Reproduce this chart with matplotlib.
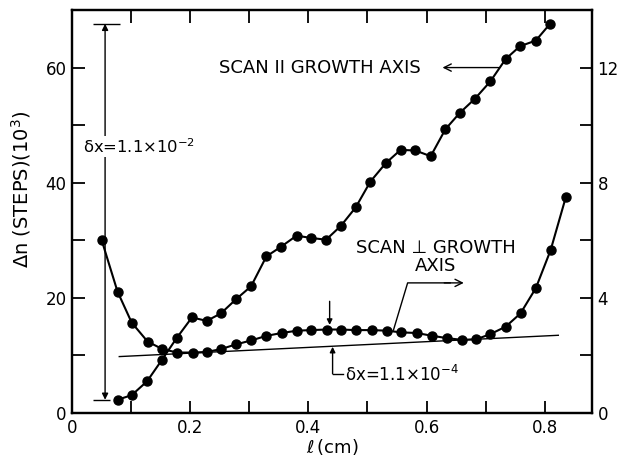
import numpy as np
import matplotlib
matplotlib.use("Agg")
import matplotlib.pyplot as plt
from matplotlib.ticker import MultipleLocator, FuncFormatter

# Scan parallel to growth axis (left axis, 10^3 steps)
par_l  = [0.077, 0.101, 0.127, 0.152, 0.177, 0.203, 0.228, 0.252, 0.278, 0.303,
          0.329, 0.354, 0.380, 0.405, 0.430, 0.455, 0.480, 0.505, 0.531, 0.556,
          0.581, 0.607, 0.632, 0.656, 0.682, 0.708, 0.734, 0.758, 0.785, 0.809]
par_dn = [2.3, 3.1, 5.5, 9.2, 13.0, 16.6, 16.0, 17.3, 19.8, 22.0,
          27.2, 28.9, 30.8, 30.4, 30.1, 32.5, 35.7, 40.2, 43.4, 45.7,
          45.6, 44.6, 49.3, 52.1, 54.6, 57.6, 61.5, 63.7, 64.7, 67.6]

# Scan perpendicular to growth axis (right axis, 10^3 steps)
perp_l  = [0.050, 0.077, 0.101, 0.128, 0.153, 0.178, 0.204, 0.228, 0.252, 0.277,
           0.303, 0.329, 0.355, 0.381, 0.405, 0.431, 0.455, 0.480, 0.507, 0.533,
           0.557, 0.583, 0.610, 0.635, 0.660, 0.684, 0.708, 0.734, 0.759, 0.785,
           0.810, 0.836]
perp_dn = [6.02, 4.22, 3.14, 2.48, 2.22, 2.10, 2.10, 2.12, 2.22, 2.38,
           2.52, 2.68, 2.78, 2.86, 2.88, 2.90, 2.90, 2.88, 2.88, 2.86,
           2.80, 2.78, 2.68, 2.60, 2.54, 2.56, 2.74, 3.00, 3.46, 4.34,
           5.66, 7.52]

# straight reference line under the perpendicular scan (right axis)
base_l  = [0.080, 0.823]
base_dn = [1.96, 2.70]

matplotlib.rc("font", family="DejaVu Sans", size=12)

fig = plt.figure(figsize=(6.22, 4.62), dpi=100)
ax = fig.add_axes([72/622, 1 - 413/462, 520/622, 403/462])
ax2 = ax.twinx()

ax.plot(par_l, par_dn, color="black", lw=1.5, marker="o", ms=6.5, zorder=3)
ax2.plot(perp_l, perp_dn, color="black", lw=1.5, marker="o", ms=6.5, zorder=3)
ax2.plot(base_l, base_dn, color="black", lw=1.0)

ax.set_xlim(0, 0.88)
ax.set_ylim(0, 70)
ax2.set_ylim(0, 14)

ax.xaxis.set_major_locator(MultipleLocator(0.2))
ax.xaxis.set_minor_locator(MultipleLocator(0.1))
ax.yaxis.set_major_locator(MultipleLocator(20))
ax.yaxis.set_minor_locator(MultipleLocator(10))
ax2.yaxis.set_major_locator(MultipleLocator(4))
ax2.yaxis.set_minor_locator(MultipleLocator(2))
ax.xaxis.set_major_formatter(FuncFormatter(lambda v, p: "0" if v == 0 else "%.1f" % v))

for a in (ax, ax2):
    a.tick_params(which="both", direction="in", length=9, width=1.3, labelsize=12, pad=4)
    for s in a.spines.values():
        s.set_linewidth(1.6)
ax.tick_params(which="both", top=True)

ax.set_xlabel(r"$\ell\,$(cm)", fontsize=13, labelpad=0)
ax.set_ylabel(r"$\Delta$n (STEPS)(10$^3$)", fontsize=14)
ax.yaxis.set_label_coords(-0.075, 0.556)

# total spread of the parallel scan
ax.hlines(67.6, 0.036, 0.081, color="black", lw=1.0)
ax.hlines(2.3, 0.036, 0.064, color="black", lw=1.0)
ax.annotate("", xy=(0.056, 67.6), xytext=(0.056, 2.3),
            arrowprops=dict(arrowstyle="<|-|>", color="black", lw=1.0,
                            mutation_scale=9, shrinkA=0, shrinkB=0))
ax.text(0.019, 46.3, "\u03b4x=1.1\u00d710$^{-2}$", fontsize=11.8,
        va="center", ha="left", bbox=dict(fc="white", ec="none", pad=1))

# curve labels
ax.text(0.248, 60.0, "SCAN II GROWTH AXIS", fontsize=13, va="center", ha="left")
ax.annotate("", xy=(0.627, 60.0), xytext=(0.722, 60.0),
            arrowprops=dict(arrowstyle="->", color="black", lw=1.0,
                            mutation_scale=13, shrinkA=0, shrinkB=0))

ax.text(0.615, 27.1, "SCAN \u22a5 GROWTH\nAXIS", fontsize=13, va="center",
        ha="center", linespacing=1.05)
ax.plot([0.544, 0.568, 0.640], [14.4, 22.6, 22.6], color="black", lw=1.0)
ax.annotate("", xy=(0.663, 22.6), xytext=(0.630, 22.6),
            arrowprops=dict(arrowstyle="->", color="black", lw=1.0,
                            mutation_scale=13, shrinkA=0, shrinkB=0))

# spread of the perpendicular scan
ax.annotate("", xy=(0.436, 15.3), xytext=(0.436, 19.4),
            arrowprops=dict(arrowstyle="-|>", color="black", lw=1.0,
                            mutation_scale=8, shrinkA=0, shrinkB=0))
ax.annotate("", xy=(0.441, 11.5), xytext=(0.441, 6.8),
            arrowprops=dict(arrowstyle="-|>", color="black", lw=1.0,
                            mutation_scale=8, shrinkA=0, shrinkB=0))
ax.plot([0.441, 0.459], [6.8, 6.8], color="black", lw=1.0)
ax.text(0.462, 6.6, "\u03b4x=1.1\u00d710$^{-4}$", fontsize=12,
        va="center", ha="left")

fig.savefig("out.png", dpi=100)
